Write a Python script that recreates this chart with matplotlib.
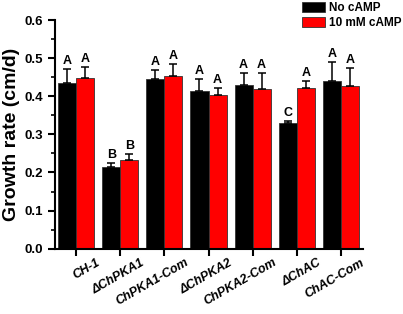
import numpy as np
import matplotlib
matplotlib.use('Agg')
import matplotlib.pyplot as plt
import matplotlib.transforms as mtransforms
from matplotlib.ticker import MultipleLocator

plt.rcParams['font.family'] = ['Liberation Sans', 'DejaVu Sans']
plt.rcParams['font.weight'] = 'bold'

strains = ['CH-1', '\u0394ChPKA1', 'ChPKA1-Com', '\u0394ChPKA2', 'ChPKA2-Com', '\u0394ChAC', 'ChAC-Com']
no_camp = [0.436, 0.215, 0.446, 0.415, 0.430, 0.330, 0.440]
no_camp_err = [0.035, 0.010, 0.024, 0.031, 0.031, 0.005, 0.049]
camp = [0.447, 0.232, 0.453, 0.404, 0.420, 0.422, 0.428]
camp_err = [0.031, 0.017, 0.032, 0.018, 0.041, 0.018, 0.047]
letters_no = ['A', 'B', 'A', 'A', 'A', 'C', 'A']
letters_camp = ['A', 'B', 'A', 'A', 'A', 'A', 'A']

fig = plt.figure(figsize=(4.03, 3.14), dpi=100)
ax = fig.add_axes([0.1365, 0.208, 0.764, 0.728])

x = np.arange(len(strains))
w = 0.41
ax.bar(x - w / 2, no_camp, w, color='black', edgecolor='#333333', linewidth=0.6, label='No cAMP')
ax.bar(x + w / 2, camp, w, color='#ff0000', edgecolor='#333333', linewidth=0.6, label='10 mM cAMP')
ax.errorbar(x - w / 2, no_camp, yerr=[np.zeros(len(x)), no_camp_err], fmt='none',
            ecolor='black', elinewidth=1.1, capsize=2.6, capthick=1.1)
ax.errorbar(x + w / 2, camp, yerr=[np.zeros(len(x)), camp_err], fmt='none',
            ecolor='black', elinewidth=1.1, capsize=2.6, capthick=1.1)

for i in range(len(x)):
    ax.text(x[i] - w / 2, no_camp[i] + no_camp_err[i] + 0.005, letters_no[i],
            ha='center', va='bottom', fontsize=9, fontweight='bold')
    ax.text(x[i] + w / 2, camp[i] + camp_err[i] + 0.005, letters_camp[i],
            ha='center', va='bottom', fontsize=9, fontweight='bold')

ax.set_xlim(-0.48, 6.5)
ax.set_ylim(0, 0.6)
ax.yaxis.set_major_locator(MultipleLocator(0.1))
ax.yaxis.set_minor_locator(MultipleLocator(0.05))
ax.set_yticklabels([f'{v:.1f}' for v in ax.get_yticks()], fontsize=9.5, fontweight='bold')
ax.set_xticks(x)
ax.set_xticklabels([])

# rotated strain names, anchored right of each tick like the original
base = mtransforms.blended_transform_factory(ax.transData, ax.transAxes)
offset = mtransforms.ScaledTranslation(20 / 100, -8 / 100, fig.dpi_scale_trans)
for xi, name in zip(x, strains):
    ax.text(xi, 0, name, transform=base + offset, rotation=30, ha='right', va='top',
            rotation_mode='anchor', fontsize=9, fontweight='bold', style='italic')

ax.tick_params(axis='both', direction='out', width=1.5, length=5)
ax.tick_params(axis='y', which='minor', direction='out', width=1.2, length=3)
ax.spines['top'].set_visible(False)
ax.spines['right'].set_visible(False)
ax.spines['left'].set_linewidth(1.5)
ax.spines['bottom'].set_linewidth(1.5)
ax.set_ylabel('Growth rate (cm/d)', fontsize=14, fontweight='bold', labelpad=3)

fig.legend(loc='upper left', bbox_to_anchor=(302 / 403, 1 - 2 / 314), frameon=False,
           handlelength=1.95, handleheight=0.95, handletextpad=0.35, labelspacing=0.25,
           borderpad=0, borderaxespad=0, prop={'weight': 'bold', 'size': 8.5})

fig.savefig('out.png', dpi=100)
